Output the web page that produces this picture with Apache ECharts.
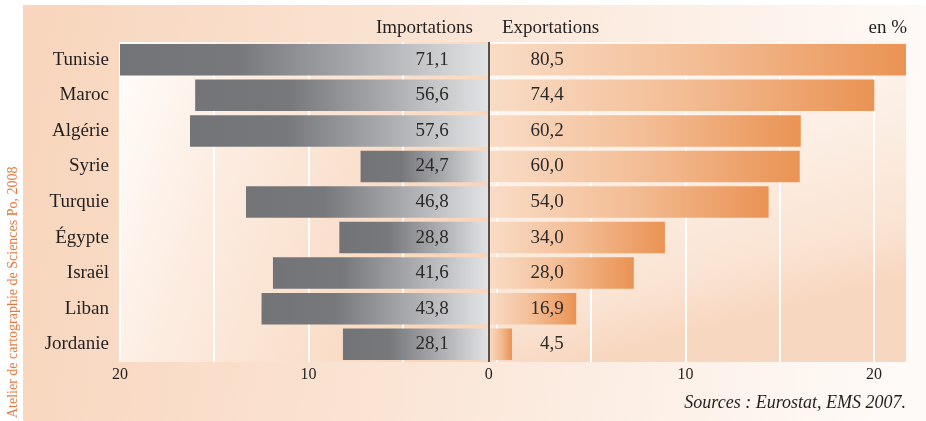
<!DOCTYPE html>
<html><head><meta charset="utf-8">
<script src="https://cdn.jsdelivr.net/npm/echarts@6/dist/echarts.min.js"></script>
<style>html,body{margin:0;padding:0;background:#fff;}#c{width:926px;height:421px;}</style>
</head><body><div id="c"></div>
<script>
// ---- data ----
const countries = ['Tunisie', 'Maroc', 'Algérie', 'Syrie', 'Turquie', 'Égypte', 'Israël', 'Liban', 'Jordanie'];
const importations = [71.1, 56.6, 57.6, 24.7, 46.8, 28.8, 41.6, 43.8, 28.1];
const exportations = [80.5, 74.4, 60.2, 60.0, 54.0, 34.0, 28.0, 16.9, 4.5];
const scaleLabelValues = [-20, -10, 10, 20];
const zeroLabel = [0];
const headerLeft = 'Importations';
const headerRight = 'Exportations';
const unitText = 'en %';
const sourceText = 'Sources : Eurostat, EMS 2007.';
const creditText = 'Atelier de cartographie de Sciences Po, 2008';

// ---- helpers ----
const SERIF = '"Liberation Serif", "Times New Roman", serif';
const TXT = '#231f20';
const fmt = v => v.toFixed(1).replace('.', ',');
const lin = (x2, y2, stops) => ({type: 'linear', x: 0, y: 0, x2: x2, y2: y2,
  colorStops: stops.map(s => ({offset: s[0], color: s[1]}))});

const greyGrad = lin(1, 0, [[0, '#737478'], [0.32, '#77787c'], [0.65, '#a9aaad'], [1, '#e2e3e5']]);
const orangeGrad = lin(1, 0, [[0, '#f9dcc6'], [0.5, '#f3bd95'], [1, '#ea9354']]);
const leftBg = lin(1, 0.4, [[0, '#fffdfb'], [0.35, '#fcece0'], [1, '#f8d5bb']]);
const rightBg = lin(0.2, 1, [[0, '#fefaf6'], [0.5, '#fcefe5'], [0.85, '#fae3d2'], [1, '#f8d7c0']]);
const panelBg = lin(1, 0.3, [[0, '#f8d5bc'], [0.45, '#fae4d4'], [1, '#fefaf7']]);

const chart = echarts.init(document.getElementById('c'), null, {renderer: 'canvas'});
const labelFont = {fontFamily: SERIF, fontSize: 19, color: '#2b2a29'};

chart.setOption({
  backgroundColor: 'transparent',
  animation: false,
  grid: {left: 120, right: 20, top: 42, bottom: 59},
  xAxis: [
    {
      type: 'value', position: 'bottom', min: 'dataMin', max: 'dataMax',
      axisLine: {show: false}, axisTick: {show: false}, splitLine: {show: false},
      axisLabel: {customValues: zeroLabel, formatter: v => String(Math.abs(v)),
        fontFamily: SERIF, fontSize: 16, color: TXT, margin: 5}
    },
    {
      type: 'value', position: 'bottom', min: -20, max: 21.7, interval: 5, z: 1,
      axisLine: {show: false}, axisTick: {show: false},
      splitLine: {show: true, showMaxLine: false, lineStyle: {color: '#ffffff', width: 2}},
      axisLabel: {showMaxLabel: false,
        formatter: v => scaleLabelValues.indexOf(v) >= 0 ? String(Math.abs(v)) : '',
        fontFamily: SERIF, fontSize: 16, color: TXT, margin: 5}
    }
  ],
  yAxis: {
    type: 'category', data: countries, inverse: true,
    axisLine: {show: false}, axisTick: {show: false}, splitLine: {show: false},
    axisLabel: {fontFamily: SERIF, fontSize: 19, color: TXT, margin: 11}
  },
  series: [
    {
      name: headerLeft, type: 'bar', xAxisIndex: 0,
      data: importations.map(v => -v),
      barWidth: 31.5, barGap: '-100%',
      itemStyle: {color: greyGrad},
      label: Object.assign({show: true, position: 'insideRight', distance: 40,
        formatter: p => fmt(-p.value)}, labelFont),
      markArea: {silent: true, z: 0,
        data: [[{xAxis: -Math.max(...importations), itemStyle: {color: leftBg}}, {xAxis: 0}]]}
    },
    {
      name: headerRight, type: 'bar', xAxisIndex: 0,
      data: exportations,
      barWidth: 31.5, barGap: '-100%',
      itemStyle: {color: orangeGrad},
      label: Object.assign({show: true, position: 'insideLeft', distance: 75, align: 'right',
        formatter: p => fmt(p.value)}, labelFont),
      markArea: {silent: true, z: 0,
        data: [[{xAxis: 0, itemStyle: {color: rightBg}}, {xAxis: Math.max(...exportations)}]]},
      markLine: {silent: true, z: 5, symbol: ['none', 'none'], label: {show: false},
        lineStyle: {color: TXT, width: 1.5, type: 'solid'},
        data: [{xAxis: 0}]}
    }
  ],
  graphic: [
    {type: 'rect', left: 23, top: 5, z: -10, silent: true,
      shape: {width: 903, height: 416}, style: {fill: panelBg}},
    {type: 'text', x: 473, y: 28, silent: true,
      style: {text: headerLeft, fill: TXT, font: '19px ' + SERIF, fontSize: 19, fontFamily: SERIF,
        align: 'right', textAlign: 'right', verticalAlign: 'middle', textVerticalAlign: 'middle'}},
    {type: 'text', x: 502, y: 28, silent: true,
      style: {text: headerRight, fill: TXT, font: '19px ' + SERIF, fontSize: 19, fontFamily: SERIF,
        align: 'left', textAlign: 'left', verticalAlign: 'middle', textVerticalAlign: 'middle'}},
    {type: 'text', x: 907, y: 28, silent: true,
      style: {text: unitText, fill: TXT, font: '19px ' + SERIF, fontSize: 19, fontFamily: SERIF,
        align: 'right', textAlign: 'right', verticalAlign: 'middle', textVerticalAlign: 'middle'}},
    {type: 'text', x: 906, y: 403, silent: true,
      style: {text: sourceText, fill: TXT, font: 'italic 18px ' + SERIF, fontSize: 18, fontStyle: 'italic', fontFamily: SERIF,
        align: 'right', textAlign: 'right', verticalAlign: 'middle', textVerticalAlign: 'middle'}},
    {type: 'text', x: 13, y: 418, rotation: Math.PI / 2, silent: true,
      style: {text: creditText, fill: '#e8773f', font: '14px ' + SERIF, fontSize: 14, fontFamily: SERIF,
        align: 'left', textAlign: 'left', verticalAlign: 'middle', textVerticalAlign: 'middle'}}
  ]
});
</script>
</body></html>
